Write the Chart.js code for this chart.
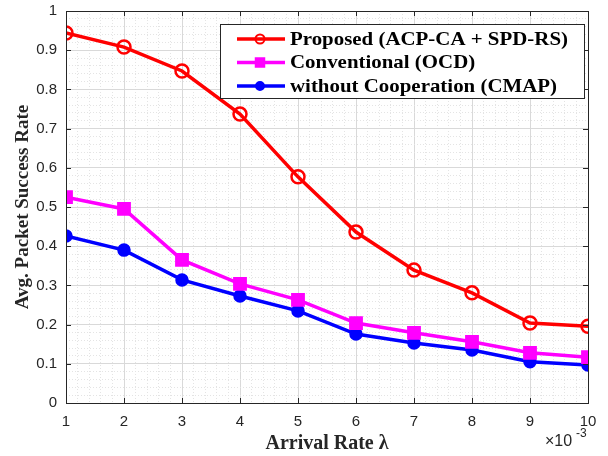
<!DOCTYPE html>
<html>
<head>
<meta charset="utf-8">
<script src="https://cdn.jsdelivr.net/npm/chart.js@4.4.1/dist/chart.umd.min.js"></script>
<style>
  html, body { margin: 0; padding: 0; background: #fff; }
  #wrap { width: 608px; height: 456px; position: relative; }
</style>
</head>
<body>
<div id="wrap"><canvas id="chart"></canvas></div>
<script>
// --- data ---
const arrivalRates = [1, 2, 3, 4, 5, 6, 7, 8, 9, 10];
const proposed     = [0.944, 0.908, 0.847, 0.737, 0.577, 0.436, 0.339, 0.281, 0.204, 0.196];
const conventional = [0.525, 0.495, 0.365, 0.304, 0.263, 0.204, 0.179, 0.156, 0.128, 0.117];
const withoutCoop  = [0.426, 0.390, 0.314, 0.273, 0.235, 0.176, 0.153, 0.135, 0.105, 0.097];
const seriesNames  = ['Proposed (ACP-CA + SPD-RS)', 'Conventional (OCD)', 'without Cooperation (CMAP)'];
const xMajorTicks  = [1, 2, 3, 4, 5, 6, 7, 8, 9, 10];
const yMajorTicks  = [0, 0.1, 0.2, 0.3, 0.4, 0.5, 0.6, 0.7, 0.8, 0.9, 1];

const toPoints = ys => arrivalRates.map((x, i) => ({ x: x, y: ys[i] }));
const isMajor = (v, step) => Math.abs(v / step - Math.round(v / step)) < 1e-6;

// smaller markers for the legend box
const legendRadius = [4.5, 6, 4];

// --- box, inward ticks, legend, exponent ---
const matlabFrame = {
    id: 'matlabFrame',
    afterDraw(chart) {
        const { ctx, chartArea: a, scales } = chart;
        ctx.save();
        ctx.strokeStyle = '#262626';
        ctx.lineWidth = 1;
        ctx.strokeRect(a.left + 0.5, a.top + 0.5, a.right - a.left, a.bottom - a.top);

        // inward ticks
        ctx.beginPath();
        xMajorTicks.forEach(v => {
            const px = Math.round(scales.x.getPixelForValue(v)) + 0.5;
            ctx.moveTo(px, a.bottom); ctx.lineTo(px, a.bottom - 5);
            ctx.moveTo(px, a.top); ctx.lineTo(px, a.top + 5);
        });
        yMajorTicks.forEach(v => {
            const py = Math.round(scales.y.getPixelForValue(v)) + 0.5;
            ctx.moveTo(a.left, py); ctx.lineTo(a.left + 5, py);
            ctx.moveTo(a.right, py); ctx.lineTo(a.right - 5, py);
        });
        ctx.stroke();

        // legend
        const lx = 220, ly = 24, lw = 364, lh = 74;
        ctx.fillStyle = '#fff';
        ctx.fillRect(lx, ly, lw, lh);
        ctx.strokeStyle = '#262626';
        ctx.lineWidth = 1;
        ctx.strokeRect(lx + 0.5, ly + 0.5, lw, lh);
        ctx.textBaseline = 'middle';
        chart.data.datasets.forEach((ds, i) => {
            const cy = ly + 15 + i * 23.5;
            ctx.strokeStyle = ds.borderColor;
            ctx.lineWidth = ds.borderWidth;
            ctx.beginPath();
            ctx.moveTo(lx + 17, cy); ctx.lineTo(lx + 65, cy);
            ctx.stroke();
            ctx.fillStyle = ds.pointBackgroundColor;
            ctx.lineWidth = 2;
            Chart.helpers.drawPoint(ctx, {
                pointStyle: ds.pointStyle,
                radius: legendRadius[i],
                borderWidth: 2
            }, lx + 40, cy);
            ctx.save();
            ctx.translate(lx + 70, cy + 1);
            ctx.scale(1.1, 1);
            ctx.fillStyle = '#000';
            ctx.font = 'bold 19px "Liberation Serif", "Times New Roman", serif';
            ctx.fillText(seriesNames[i], 0, 0);
            ctx.restore();
        });

        // x10^-3 exponent
        ctx.fillStyle = '#262626';
        ctx.textBaseline = 'alphabetic';
        ctx.font = '16px "Liberation Sans", Arial, sans-serif';
        ctx.fillText('\u00d710', 545, 446);
        ctx.font = '12px "Liberation Sans", Arial, sans-serif';
        ctx.fillText('-3', 576, 437);
        ctx.restore();
    }
};

function makeDataset(label, ys, color, style, radius, fill) {
    return {
        label: label,
        data: toPoints(ys),
        borderColor: color,
        backgroundColor: fill,
        borderWidth: 3.5,
        pointStyle: style,
        pointRadius: radius,
        pointHoverRadius: radius,
        pointBorderWidth: 2.5,
        pointBackgroundColor: fill,
        pointBorderColor: color,
        tension: 0
    };
}

const ctx = document.getElementById('chart').getContext('2d');
new Chart(ctx, {
    type: 'line',
    data: {
        datasets: [
            makeDataset(seriesNames[0], proposed, '#ff0000', 'circle', 6.5, 'rgba(255,255,255,0)'),
            makeDataset(seriesNames[1], conventional, '#ff00ff', 'rect', 8, '#ff00ff'),
            makeDataset(seriesNames[2], withoutCoop, '#0000ff', 'circle', 5.5, '#0000ff')
        ]
    },
    options: {
        responsive: true,
        maintainAspectRatio: false,
        animation: false,
        events: [],
        layout: { padding: { top: 11, right: 20, left: 0, bottom: 0 } },
        plugins: { legend: { display: false }, tooltip: { enabled: false } },
        scales: {
            x: {
                type: 'linear',
                min: 1, max: 10,
                afterFit: s => { s.height = 53; s.paddingLeft = 0; s.paddingRight = 0; },
                afterBuildTicks: s => {
                    const t = [];
                    for (let i = 0; i <= 45; i++) t.push({ value: 1 + i * 0.2 });
                    s.ticks = t;
                },
                grid: {
                    drawTicks: false,
                    color: c => isMajor(c.tick.value, 1) ? '#d9d9d9' : '#e4e4e4',
                    lineWidth: 1
                },
                border: {
                    display: false,
                    dash: c => (c.tick && isMajor(c.tick.value, 1)) ? [] : [1, 2]
                },
                ticks: {
                    autoSkip: false,
                    maxRotation: 0,
                    padding: 10,
                    color: '#262626',
                    font: { family: '"Liberation Sans", Arial, sans-serif', size: 15 },
                    callback: v => isMajor(v, 1) ? String(Math.round(v)) : ''
                },
                title: {
                    display: true,
                    text: 'Arrival Rate \u03bb',
                    color: '#262626',
                    padding: { top: 2, bottom: 0 },
                    font: { family: '"Liberation Serif", "Times New Roman", serif', size: 20, weight: 'bold' }
                }
            },
            y: {
                type: 'linear',
                min: 0, max: 1,
                afterFit: s => { s.width = 66; s.paddingTop = 0; s.paddingBottom = 0; },
                afterBuildTicks: s => {
                    const t = [];
                    for (let i = 0; i <= 50; i++) t.push({ value: i * 0.02 });
                    s.ticks = t;
                },
                grid: {
                    drawTicks: false,
                    color: c => isMajor(c.tick.value, 0.1) ? '#d9d9d9' : '#e4e4e4',
                    lineWidth: 1
                },
                border: {
                    display: false,
                    dash: c => (c.tick && isMajor(c.tick.value, 0.1)) ? [] : [1, 2]
                },
                ticks: {
                    autoSkip: false,
                    padding: 9,
                    color: '#262626',
                    font: { family: '"Liberation Sans", Arial, sans-serif', size: 15 },
                    callback: v => isMajor(v, 0.1) ? String(Math.round(v * 10) / 10) : ''
                },
                title: {
                    display: true,
                    text: 'Avg. Packet Success Rate',
                    color: '#262626',
                    padding: { top: 12, bottom: 0 },
                    font: { family: '"Liberation Serif", "Times New Roman", serif', size: 19, weight: 'bold' }
                }
            }
        }
    },
    plugins: [matlabFrame]
});
</script>
</body>
</html>
